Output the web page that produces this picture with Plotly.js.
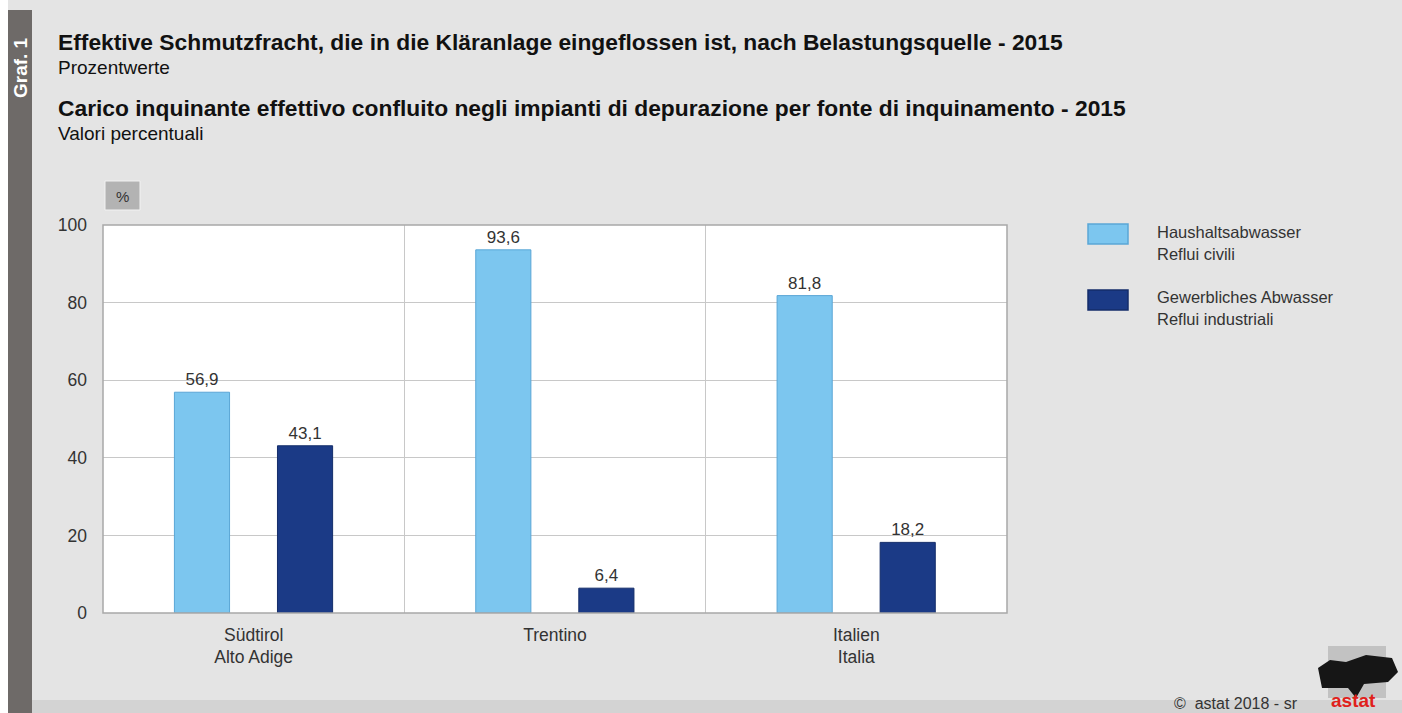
<!DOCTYPE html>
<html>
<head>
<meta charset="utf-8">
<script src="https://cdn.plot.ly/plotly-3.0.1.min.js"></script>
<style>
html,body{margin:0;padding:0;background:#ffffff;}
#chart{width:1402px;height:713px;}
</style>
</head>
<body>
<div id="chart"></div>
<script>
// Data
const categories = ["Südtirol<br>Alto Adige", "Trentino", "Italien<br>Italia"];
const seriesNamesDe = ["Haushaltsabwasser", "Gewerbliches Abwasser"];
const seriesNamesIt = ["Reflui civili", "Reflui industriali"];
const civili = [56.9, 93.6, 81.8];
const industriali = [43.1, 6.4, 18.2];
const yTicks = [0, 20, 40, 60, 80, 100];

const colors = ["#7cc6ef", "#1b3a86"];
const borders = ["#5aa6d6", "#142d6a"];
const fmt = v => v.toFixed(1).replace('.', ',');

const font = 'Liberation Sans, Arial, sans-serif';
const seriesData = [civili, industriali];
const offsets = [-0.263, 0.079];
const traces = seriesData.map((vals, i) => ({
  type: 'bar',
  x: categories,
  y: vals,
  name: seriesNamesDe[i] + ' / ' + seriesNamesIt[i],
  offset: offsets[i],
  width: 0.183,
  marker: {color: colors[i], line: {color: borders[i], width: 1}},
  text: vals.map(fmt),
  textposition: 'outside',
  cliponaxis: false,
  textfont: {family: font, size: 17, color: '#333333'},
  showlegend: false,
  hoverinfo: 'x+y'
}));

const L = 103, R = 395, T = 225, B = 100;
const W = 1402 - L - R, H = 713 - T - B;
const px = x => (x - L) / W;
const py = y => (713 - B - y) / H;

const layoutShapes = [
  {type:'rect', xref:'paper', yref:'paper', x0:px(0), x1:px(1402), y0:py(713), y1:py(10), fillcolor:'#e4e4e4', line:{width:0}, layer:'below'},
  {type:'rect', xref:'paper', yref:'paper', x0:px(0), x1:px(1402), y0:py(713), y1:py(700), fillcolor:'#d3d3d3', line:{width:0}, layer:'below'},
  {type:'rect', xref:'paper', yref:'paper', x0:px(0), x1:px(8), y0:py(713), y1:py(0), fillcolor:'#ffffff', line:{width:0}, layer:'below'},
  {type:'rect', xref:'paper', yref:'paper', x0:px(8), x1:px(32), y0:py(713), y1:py(10), fillcolor:'#6e6a68', line:{width:0}, layer:'below'},
  // white plot area
  {type:'rect', xref:'paper', yref:'paper', x0:0, x1:1, y0:0, y1:1, fillcolor:'#ffffff', line:{width:0}, layer:'below'},
  // % box
  {type:'rect', xref:'paper', yref:'paper', x0:px(105), x1:px(140), y0:py(210), y1:py(181), fillcolor:'#b3b3b3', line:{color:'#f2f2f2', width:1}, layer:'below'},
  // plot frame
  {type:'rect', xref:'paper', yref:'paper', x0:0, x1:1, y0:0, y1:1, line:{color:'#a8a8a8', width:1.5}, fillcolor:'rgba(0,0,0,0)'},
  // legend boxes
  {type:'rect', xref:'paper', yref:'paper', x0:px(1088), x1:px(1128), y0:py(244), y1:py(224), fillcolor:colors[0], line:{color:borders[0], width:1.5}},
  {type:'rect', xref:'paper', yref:'paper', x0:px(1088), x1:px(1128), y0:py(310), y1:py(290), fillcolor:colors[1], line:{color:borders[1], width:1.5}},
  // logo: dotted area approximation + dark map
  {type:'rect', xref:'paper', yref:'paper', x0:px(1328), x1:px(1386), y0:py(698), y1:py(646), fillcolor:'#c2c2c2', line:{width:0}},
  {type:'path', xref:'paper', yref:'paper',
   path:`M ${px(1318)} ${py(668)} L ${px(1330)} ${py(660)} L ${px(1346)} ${py(662)} L ${px(1366)} ${py(655)} L ${px(1392)} ${py(658)} L ${px(1398)} ${py(672)} L ${px(1388)} ${py(682)} L ${px(1364)} ${py(684)} L ${px(1356)} ${py(698)} L ${px(1348)} ${py(688)} L ${px(1322)} ${py(688)} Z`,
   fillcolor:'#161616', line:{width:0}}
];

const annotations = [
  {text:'<b>Effektive Schmutzfracht, die in die Kläranlage eingeflossen ist, nach Belastungsquelle - 2015</b>', x:px(56), y:py(42.5), xanchor:'left', yanchor:'middle', font:{family:font, size:22.8, color:'#111'}},
  {text:'Prozentwerte', x:px(56), y:py(67.5), xanchor:'left', yanchor:'middle', font:{family:font, size:19, color:'#111'}},
  {text:'<b>Carico inquinante effettivo confluito negli impianti di depurazione per fonte di inquinamento - 2015</b>', x:px(56), y:py(108), xanchor:'left', yanchor:'middle', font:{family:font, size:22.8, color:'#111'}},
  {text:'Valori percentuali', x:px(56), y:py(133), xanchor:'left', yanchor:'middle', font:{family:font, size:19, color:'#111'}},
  {text:'<b>Graf. 1</b>', x:px(20), y:py(68), xanchor:'center', yanchor:'middle', textangle:-90, font:{family:font, size:19, color:'#ffffff'}},
  {text:'%', x:px(122.5), y:py(196), xanchor:'center', yanchor:'middle', font:{family:font, size:15, color:'#333'}},
  {text:seriesNamesDe[0], x:px(1155), y:py(232), xanchor:'left', yanchor:'middle', font:{family:font, size:16.5, color:'#333'}},
  {text:seriesNamesIt[0], x:px(1155), y:py(254), xanchor:'left', yanchor:'middle', font:{family:font, size:16.5, color:'#333'}},
  {text:seriesNamesDe[1], x:px(1155), y:py(297), xanchor:'left', yanchor:'middle', font:{family:font, size:16.5, color:'#333'}},
  {text:seriesNamesIt[1], x:px(1155), y:py(319), xanchor:'left', yanchor:'middle', font:{family:font, size:16.5, color:'#333'}},
  {text:'©  astat 2018 - sr', x:px(1172), y:py(703), xanchor:'left', yanchor:'middle', font:{family:font, size:16, color:'#333'}},
  {text:'<b>astat</b>', x:px(1329), y:py(700), xanchor:'left', yanchor:'middle', font:{family:font, size:19, color:'#e0201b'}}
].map(a => Object.assign({xref:'paper', yref:'paper', showarrow:false}, a));

const layout = {
  width:1402, height:713,
  margin:{l:L, r:R, t:T, b:B, pad:0},
  paper_bgcolor:'#e4e4e4',
  plot_bgcolor:'#ffffff',
  barmode:'group',
  font:{family:font, size:14, color:'#333'},
  xaxis:{
    type:'category',
    tickson:'boundaries',
    showgrid:true, gridcolor:'#c8c8c8', gridwidth:1,
    ticks:'', ticklen:0,
    showline:false,
    ticklabelstandoff:9,
    tickfont:{family:font, size:17.5, color:'#333'},
    automargin:false
  },
  yaxis:{
    range:[0,100],
    tickvals:yTicks,
    ticktext:yTicks.map(String),
    showgrid:true, gridcolor:'#c8c8c8', gridwidth:1,
    zeroline:false,
    ticks:'', ticklabelstandoff:15,
    tickfont:{family:font, size:17.5, color:'#333'},
    automargin:false
  },
  shapes:layoutShapes,
  annotations:annotations,
  showlegend:false
};

Plotly.newPlot('chart', traces, layout, {displayModeBar:false, staticPlot:true});
</script>
</body>
</html>
